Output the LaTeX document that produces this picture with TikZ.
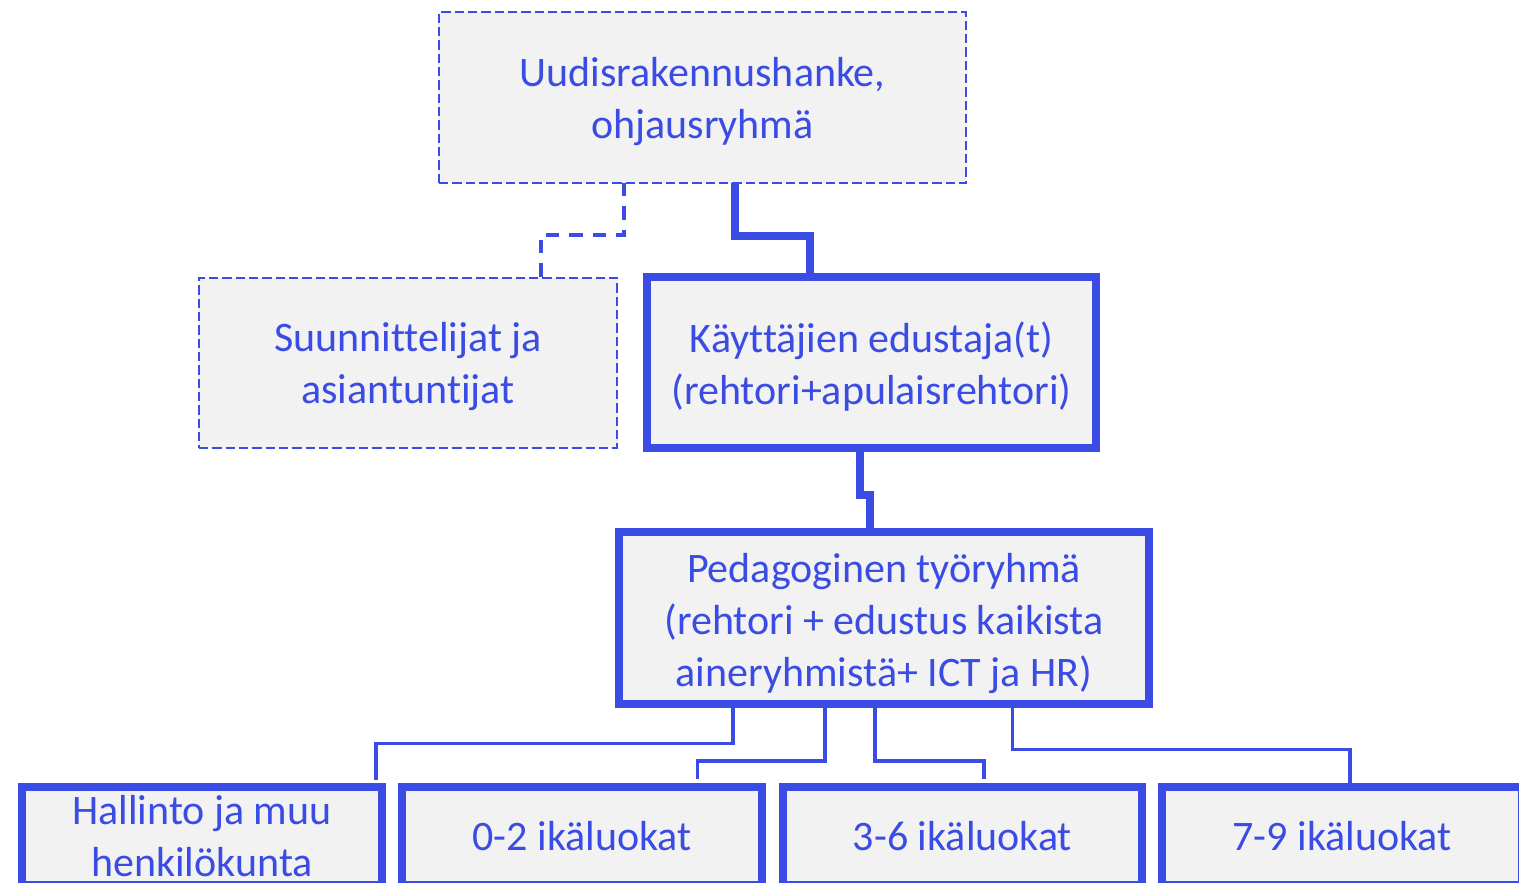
\documentclass[tikz,border=0pt]{standalone}
\usepackage{fontspec}
\setmainfont{Carlito}[Ligatures=NoCommon]
\usetikzlibrary{calc}
\definecolor{bl}{RGB}{58,76,227}
\definecolor{bg}{RGB}{242,242,242}
\begin{document}
\begin{tikzpicture}[x=0.75pt,y=-0.75pt,
  every node/.style={font=\fontsize{31.5}{39}\selectfont, text=bl, align=center, inner sep=0pt, outer sep=0pt},
  dbox/.style={draw=bl, fill=bg, line width=1.9pt, dash pattern=on 7pt off 3pt, rectangle},
  tbox/.style={draw=bl, fill=bg, line width=6pt, rectangle},
  txt/.style={yshift=-3pt},
  dconn/.style={draw=bl, line width=2.6pt, dash pattern=on 10pt off 7.5pt},
  thconn/.style={draw=bl, line width=6pt},
  thinconn/.style={draw=bl, line width=2.6pt}]
\useasboundingbox (0,0) rectangle (1519,882);
\begin{scope}
\clip (0,0) rectangle (1519,882);
\node[dbox, minimum width=527*0.75pt, minimum height=171*0.75pt] (top) at (702.5,97.5) {};
\node[txt] (toptext) at (top) {Uudisrakennushanke,\\ohjausryhmä};
\node[dbox, minimum width=418*0.75pt, minimum height=170*0.75pt] (plan) at (408,363) {};
\node[txt] (plantext) at (plan) {Suunnittelijat ja\\asiantuntijat};
\node[tbox, minimum width=449*0.75pt, minimum height=171*0.75pt] (users) at (871.5,362.5) {};
\node[txt] (userstext) at (users) {Käyttäjien edustaja(t)\\(rehtori+apulaisrehtori)};
\node[tbox, minimum width=530*0.75pt, minimum height=172*0.75pt] (ped) at (884,618) {};
\node[txt, yshift=-0.8pt] (pedtext) at (ped) {Pedagoginen työryhmä\\(rehtori + edustus kaikista\\aineryhmistä+ ICT ja HR)};
\node[tbox, minimum width=360*0.75pt, minimum height=98*0.75pt] (b1) at (202,836) {};
\node (b1text) at (b1) {Hallinto ja muu\\henkilökunta};
\node[tbox, minimum width=360*0.75pt, minimum height=98*0.75pt] (b2) at (582,836) {0-2 ikäluokat};
\node[tbox, minimum width=359*0.75pt, minimum height=98*0.75pt] (b3) at (962.5,836) {3-6 ikäluokat};
\node[tbox, minimum width=360*0.75pt, minimum height=98*0.75pt] (b4) at (1342,836) {7-9 ikäluokat};

\draw[dconn] ($(top.south west)+(185,0)$) -- ++(0,52) -| ($(plan.north west)+(342,0)$);
\draw[thconn] ($(top.south west)+(296,0)$) -- ++(0,52.5) -| ($(users.north west)+(163,0)$);
\draw[thconn] ($(users.south west)+(213,0)$) -- ++(0,47) -| ($(ped.north west)+(250.5,0)$);
\draw[thinconn] ($(ped.south west)+(114,0)$) -- ++(0,39.5) -| ($(b1.north west)+(354,-7)$);
\draw[thinconn] ($(ped.south west)+(206,0)$) -- ++(0,57) -| ($(b2.north west)+(295.5,-8)$);
\draw[thinconn] ($(ped.south west)+(256,0)$) -- ++(0,57) -| ($(b3.north west)+(201,-8)$);
\draw[thinconn] ($(ped.south west)+(393.5,0)$) -- ++(0,45.5) -| ($(b4.north west)+(188,0)$);
\end{scope}
\end{tikzpicture}
\end{document}
